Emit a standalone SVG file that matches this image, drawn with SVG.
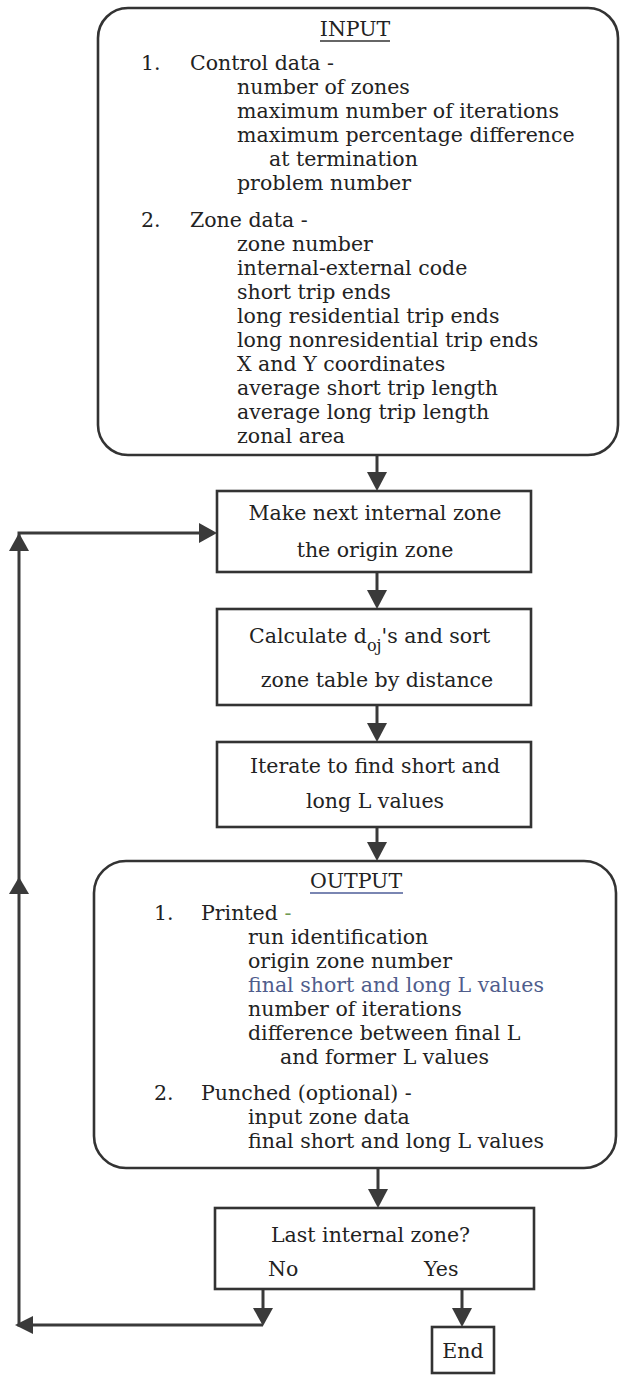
<svg xmlns="http://www.w3.org/2000/svg" width="621" height="1376" viewBox="0 0 621 1376">
<style>
.box{fill:#fff;stroke:#333;stroke-width:2.6}
.t{font-family:"DejaVu Serif","Liberation Serif",serif;font-size:20.5px;fill:#222}
.c{text-anchor:middle}
.ln{fill:none;stroke:#3a3a3a;stroke-width:3}
.ah{fill:#3a3a3a}
</style>
<rect width="621" height="1376" fill="#fff"/>
<g id="connectors">
<line class="ln" x1="377" y1="455" x2="377" y2="474"/>
<polygon class="ah" points="367,472 387,472 377,491"/>
<line class="ln" x1="377" y1="572" x2="377" y2="592"/>
<polygon class="ah" points="367,590 387,590 377,609"/>
<line class="ln" x1="377" y1="705" x2="377" y2="725"/>
<polygon class="ah" points="367,723 387,723 377,742"/>
<line class="ln" x1="377" y1="827" x2="377" y2="844"/>
<polygon class="ah" points="367,842 387,842 377,861"/>
<line class="ln" x1="378" y1="1168" x2="378" y2="1191"/>
<polygon class="ah" points="368,1189 388,1189 378,1208"/>
<line class="ln" x1="263" y1="1289" x2="263" y2="1310"/>
<polygon class="ah" points="253,1308 273,1308 263,1326"/>
<line class="ln" x1="462" y1="1289" x2="462" y2="1310"/>
<polygon class="ah" points="452,1308 472,1308 462,1327"/>
<polyline class="ln" points="263,1325 19,1325 19,533 202,533"/>
<polygon class="ah" points="15,1325 33,1316 33,1334"/>
<polygon class="ah" points="19,533 9,551 29,551"/>
<polygon class="ah" points="19,877 9,894 29,894"/>
<polygon class="ah" points="217,533 199,523 199,543"/>
</g>
<g id="input">
<rect class="box" x="98" y="8" width="520" height="447" rx="30"/>
<text class="t c" x="355" y="36">INPUT</text>
<line x1="320" y1="41" x2="390" y2="41" stroke="#333" stroke-width="1.5"/>
<text class="t" x="141" y="70">1.</text>
<text class="t" x="190" y="70">Control data -</text>
<text class="t" x="237" y="94">number of zones</text>
<text class="t" x="237" y="118">maximum number of iterations</text>
<text class="t" x="237" y="142">maximum percentage difference</text>
<text class="t" x="269" y="166">at termination</text>
<text class="t" x="237" y="190">problem number</text>
<text class="t" x="141" y="227">2.</text>
<text class="t" x="190" y="227">Zone data -</text>
<text class="t" x="237" y="251">zone number</text>
<text class="t" x="237" y="275">internal-external code</text>
<text class="t" x="237" y="299">short trip ends</text>
<text class="t" x="237" y="323">long residential trip ends</text>
<text class="t" x="237" y="347">long nonresidential trip ends</text>
<text class="t" x="237" y="371">X and Y coordinates</text>
<text class="t" x="237" y="395">average short trip length</text>
<text class="t" x="237" y="419">average long trip length</text>
<text class="t" x="237" y="443">zonal area</text>
</g>
<g id="make">
<rect class="box" x="217" y="491" width="314" height="81"/>
<text class="t c" x="375" y="520">Make next internal zone</text>
<text class="t c" x="375" y="557">the origin zone</text>
</g>
<g id="calculate">
<rect class="box" x="217" y="609" width="314" height="96"/>
<text class="t" x="249" y="643">Calculate d<tspan font-size="16" dy="8">oj</tspan><tspan dy="-8">'s and sort</tspan></text>
<text class="t c" x="377" y="687">zone table by distance</text>
</g>
<g id="iterate">
<rect class="box" x="217" y="742" width="314" height="85"/>
<text class="t c" x="375" y="773">Iterate to find short and</text>
<text class="t c" x="375" y="808">long L values</text>
</g>
<g id="output">
<rect class="box" x="94" y="861" width="522" height="307" rx="32"/>
<text class="t c" x="356" y="888">OUTPUT</text>
<line x1="310" y1="893" x2="403" y2="893" stroke="#7a86b2" stroke-width="2"/>
<text class="t" x="154" y="920">1.</text>
<text class="t" x="201" y="920">Printed <tspan fill="#6f9a52">-</tspan></text>
<text class="t" x="248" y="944">run identification</text>
<text class="t" x="248" y="968">origin zone number</text>
<text class="t" x="248" y="992" fill="#4f5d8c" style="fill:#4f5d8c">final short and long L values</text>
<text class="t" x="248" y="1016">number of iterations</text>
<text class="t" x="248" y="1040">difference between final L</text>
<text class="t" x="280" y="1064">and former L values</text>
<text class="t" x="154" y="1100">2.</text>
<text class="t" x="201" y="1100">Punched (optional) -</text>
<text class="t" x="248" y="1124">input zone data</text>
<text class="t" x="248" y="1148">final short and long L values</text>
</g>
<g id="last">
<rect class="box" x="215" y="1208" width="319" height="81"/>
<text class="t" x="271" y="1242">Last internal zone?</text>
<text class="t" x="268" y="1276">No</text>
<text class="t" x="424" y="1276">Yes</text>
</g>
<g id="end">
<rect class="box" x="432" y="1327" width="62" height="46"/>
<text class="t c" x="463" y="1358">End</text>
</g>
</svg>
